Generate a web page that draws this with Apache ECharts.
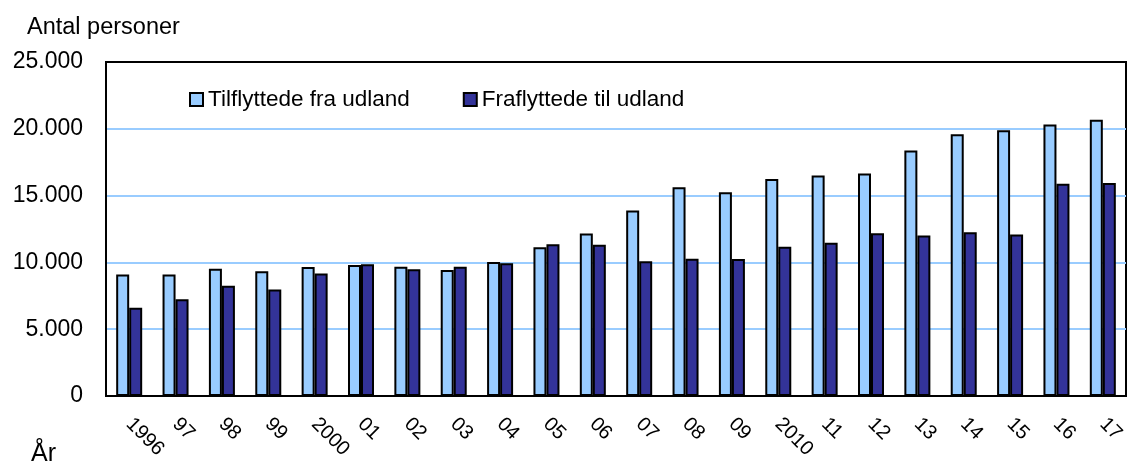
<!DOCTYPE html>
<html>
<head>
<meta charset="utf-8">
<script src="https://cdn.jsdelivr.net/npm/echarts@6/dist/echarts.min.js"></script>
<style>
  html, body { margin: 0; padding: 0; background: #fff; }
  #main { width: 1130px; height: 466px; }
</style>
</head>
<body>
<div id="main"></div>
<script>
// år (kategorier) og værdier
var years = ['1996', '97', '98', '99', '2000', '01', '02', '03', '04', '05', '06',
             '07', '08', '09', '2010', '11', '12', '13', '14', '15', '16', '17'];

var tilflyttede = [9100, 9100, 9530, 9330, 9660, 9800, 9680, 9430, 10030, 11130, 12160,
                   13880, 15630, 15250, 16250, 16500, 16660, 18380, 19600, 19900, 20330, 20670];

var fraflyttede = [6600, 7250, 8260, 7980, 9160, 9860, 9480, 9680, 9930, 11360, 11330,
                   10080, 10280, 10250, 11180, 11470, 12180, 12010, 12260, 12080, 15880, 15950];

var myChart = echarts.init(document.getElementById('main'));

function fmt(v) {
    // dansk tusindtalsseparator
    return String(v).replace(/\B(?=(\d{3})+(?!\d))/g, '.');
}

var font = 'Liberation Sans, Arial, sans-serif';

option = {
    animation: false,
    backgroundColor: '#fff',
    textStyle: { fontFamily: font },
    title: [
        {
            text: 'Antal personer',
            left: 22,
            top: 11,
            textStyle: { fontSize: 23.5, fontWeight: 'normal', color: '#000', fontFamily: font }
        },
        {
            text: 'År',
            left: 26,
            top: 437,
            textStyle: { fontSize: 25, fontWeight: 'normal', color: '#000', fontFamily: font }
        }
    ],
    legend: {
        data: ['Tilflyttede fra udland', 'Fraflyttede til udland'],
        left: 184,
        top: 83,
        icon: 'rect',
        itemWidth: 13,
        itemHeight: 13,
        itemGap: 53,
        itemStyle: { borderColor: '#000', borderWidth: 2 },
        textStyle: { fontSize: 22.5, color: '#000', fontFamily: font }
    },
    grid: {
        left: 106,
        right: 4,
        top: 62,
        bottom: 70,
        show: true,
        borderColor: '#000',
        borderWidth: 2
    },
    xAxis: {
        type: 'category',
        data: years,
        axisLine: { lineStyle: { color: '#000', width: 2 } },
        axisTick: { show: false },
        axisLabel: {
            rotate: -45,
            margin: 25,
            fontSize: 20,
            color: '#000',
            fontFamily: font
        }
    },
    yAxis: {
        type: 'value',
        min: 0,
        max: 25000,
        interval: 5000,
        axisLine: { show: true, lineStyle: { color: '#000', width: 2 } },
        axisTick: { show: false },
        axisLabel: {
            margin: 23,
            fontSize: 23,
            color: '#000',
            fontFamily: font,
            formatter: fmt
        },
        splitLine: {
            showMinLine: false,
            showMaxLine: false,
            lineStyle: { color: '#99ccff', width: 2 }
        }
    },
    series: [
        {
            name: 'Tilflyttede fra udland',
            type: 'bar',
            data: tilflyttede,
            barWidth: 13,
            barGap: '0%',
            itemStyle: { color: '#99ccff', borderColor: '#000', borderWidth: 2 }
        },
        {
            name: 'Fraflyttede til udland',
            type: 'bar',
            data: fraflyttede,
            barWidth: 13,
            itemStyle: { color: '#333399', borderColor: '#000', borderWidth: 2 }
        }
    ]
};

myChart.setOption(option);
</script>
</body>
</html>
